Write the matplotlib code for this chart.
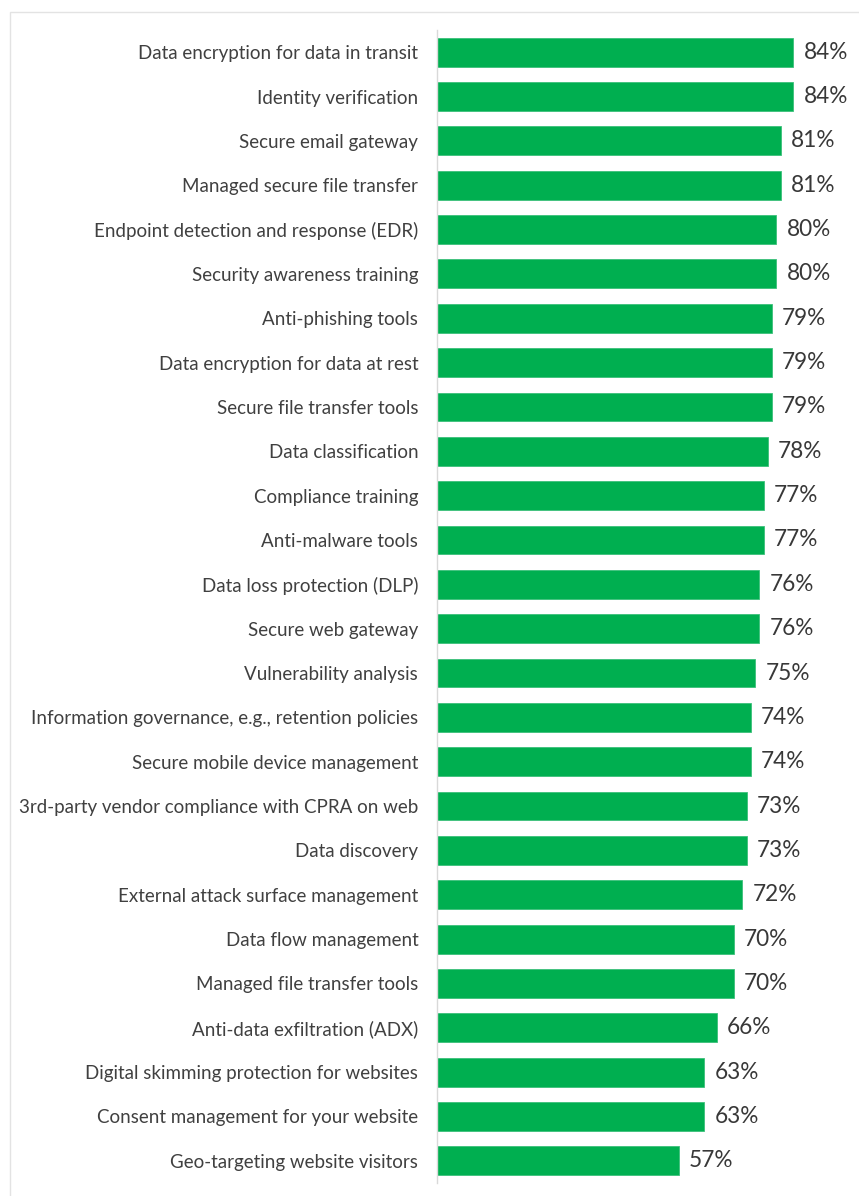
import matplotlib.pyplot as plt
from matplotlib.patches import Rectangle

categories = [
    "Data encryption for data in transit",
    "Identity verification",
    "Secure email gateway",
    "Managed secure file transfer",
    "Endpoint detection and response (EDR)",
    "Security awareness training",
    "Anti-phishing tools",
    "Data encryption for data at rest",
    "Secure file transfer tools",
    "Data classification",
    "Compliance training",
    "Anti-malware tools",
    "Data loss protection (DLP)",
    "Secure web gateway",
    "Vulnerability analysis",
    "Information governance, e.g., retention policies",
    "Secure mobile device management",
    "3rd-party vendor compliance with CPRA on web",
    "Data discovery",
    "External attack surface management",
    "Data flow management",
    "Managed file transfer tools",
    "Anti-data exfiltration (ADX)",
    "Digital skimming protection for websites",
    "Consent management for your website",
    "Geo-targeting website visitors",
]
values = [84, 84, 81, 81, 80, 80, 79, 79, 79, 78, 77, 77, 76, 76, 75,
          74, 74, 73, 73, 72, 70, 70, 66, 63, 63, 57]

green = "#00AF50"
text_col = "#404040"

W, H = 859, 1196
fig = plt.figure(figsize=(W / 100, H / 100), dpi=100)

# light frame around the panel
fig.patches.append(Rectangle((10 / W, 0 - 0.01), 1.0, 1 - 12 / H + 0.01,
                             transform=fig.transFigure, fill=False,
                             edgecolor="#e3e3e3", linewidth=1.0))

ax = fig.add_axes([437 / W, 13 / H, 1 - 437 / W, (1183 - 30) / H])
y = list(range(len(categories)))
ax.barh(y, values, height=0.65, color=green, edgecolor="#3cc07a", linewidth=0.6)

ax.set_ylim(len(categories) - 0.5, -0.5)
ax.set_xlim(0, 99.5)
ax.set_yticks(y)
ax.set_yticklabels(categories, fontsize=13.5, color=text_col, family="Lato")
ax.tick_params(axis="y", length=0, pad=13.5)
ax.set_xticks([])
for s in ["top", "right", "bottom"]:
    ax.spines[s].set_visible(False)
ax.spines["left"].set_color("#d9d9d9")
ax.spines["left"].set_linewidth(1.0)

for yi, v in zip(y, values):
    ax.text(v + 2.4, yi, f"{v}%", va="center", ha="left", fontsize=16.3,
            color="#383838", family="Lato")

fig.savefig("out.png", dpi=100)
